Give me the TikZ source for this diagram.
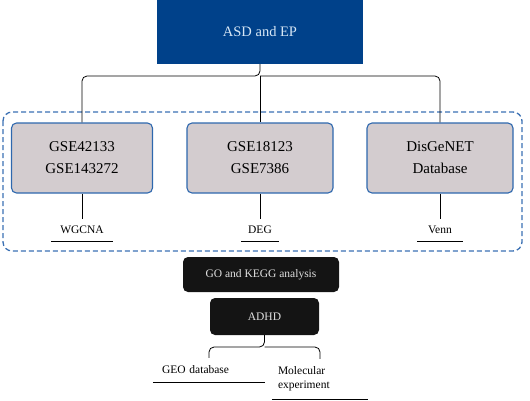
\documentclass[tikz,border=0pt]{standalone}
\usepackage{fontspec}
\setmainfont{Liberation Serif}
\definecolor{asdblue}{HTML}{00418A}
\definecolor{asdtext}{HTML}{D6E6F5}
\definecolor{dashblue}{HTML}{3B70B3}
\definecolor{boxgrey}{HTML}{D3CCCF}
\definecolor{boxline}{HTML}{2E68AE}
\tikzstyle{head}=[fill=asdblue,text=asdtext,minimum width=206pt,minimum height=64pt,inner sep=0pt,font=\fontsize{14.5}{17}\selectfont]
\tikzstyle{data}=[draw=boxline,fill=boxgrey,rounded corners=5pt,line width=1.1pt,minimum height=70pt,inner sep=0pt,align=center,font=\fontsize{15}{22}\selectfont]
\tikzstyle{method}=[minimum height=22pt,inner sep=0pt,font=\fontsize{11.5}{14}\selectfont]
\tikzstyle{dark}=[fill=black!92,text=black!12,rounded corners=5pt,inner sep=0pt,font=\fontsize{11.5}{14}\selectfont]
\tikzstyle{link}=[line width=0.8pt,rounded corners=5pt]

\begin{document}
\begin{tikzpicture}[x=1pt,y=-1pt]
  \useasboundingbox (0,0) rectangle (530,400);
  % dashed frame round the data sets
  \draw[dashblue,dash pattern=on 5pt off 3pt,line width=1.3pt,rounded corners=9pt] (3,112) rectangle (522,251);

  \node[head] (asd) at (260,32) {ASD and EP};
  \coordinate (split) at (260,76);

  \node[data,minimum width=141pt] (gse1) at (82,158) {GSE42133\\GSE143272};
  \node[data,minimum width=146pt] (gse2) at (260,158) {GSE18123\\GSE7386};
  \node[data,minimum width=146pt] (dis) at (440,158) {DisGeNET\\Database};

  \node[method,minimum width=61pt] (wgcna) at (82,230) {WGCNA};
  \node[method,minimum width=37pt] (deg) at (260,230) {DEG};
  \node[method,minimum width=45pt] (venn) at (440,230) {Venn};

  \node[dark,minimum width=156pt,minimum height=35pt] (go) at (261,274.5) {GO and KEGG analysis};
  \node[dark,minimum width=109pt,minimum height=37pt] (adhd) at (264.5,316.5) {ADHD};
  \coordinate (fork) at (264.5,347);

  \node[method,minimum width=112pt,minimum height=24pt,text width=94pt,inner xsep=9pt,align=left] (geo) at (209,370) {GEO database};
  \node[method,minimum width=96pt,minimum height=40pt,text width=84pt,inner xsep=6pt,align=left] (mol) at (320,379) {Molecular\\experiment};

  \draw[link] (asd) -- (split) -| (gse1);
  \draw[link] (split) -- (gse2);
  \draw[link] (split) -| (dis);
  \draw[link] (gse1) -- (wgcna);
  \draw[link] (gse2) -- (deg);
  \draw[link] (dis) -- (venn);
  \draw[link] (adhd) -- (fork) -| (geo);
  \draw[link] (fork) -| (mol);

  % underlines
  \foreach \n in {wgcna,deg,venn,geo,mol}
    \draw[line width=0.8pt] (\n.south west) -- (\n.south east);
\end{tikzpicture}
\end{document}
